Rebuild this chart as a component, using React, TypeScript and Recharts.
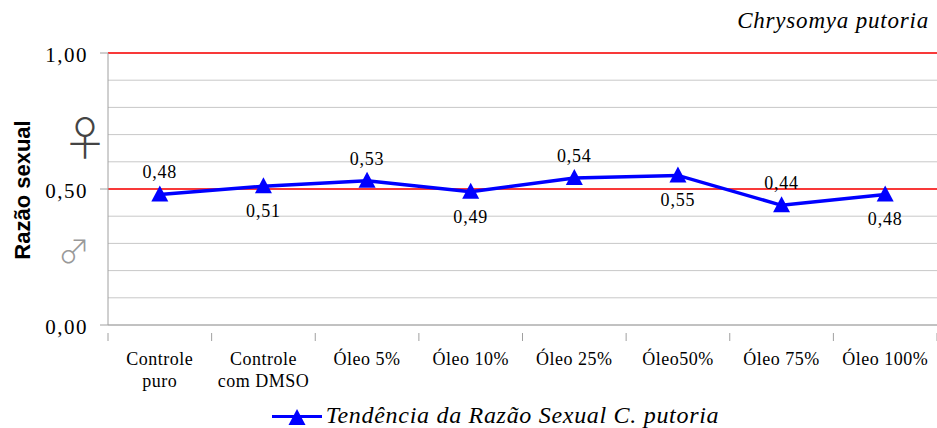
import React from 'react';
import { LineChart, Line, XAxis, YAxis, CartesianGrid, ReferenceLine, LabelList, Legend } from 'recharts';

const categories = ['Controle\npuro', 'Controle\ncom DMSO', 'Óleo 5%', 'Óleo 10%', 'Óleo 25%', 'Óleo50%', 'Óleo 75%', 'Óleo 100%'];
const ratios = [0.48, 0.51, 0.53, 0.49, 0.54, 0.55, 0.44, 0.48];
const labelSides = ['top', 'bottom', 'top', 'bottom', 'top', 'bottom', 'top', 'bottom'];
const yTicks = [0, 0.1, 0.2, 0.3, 0.4, 0.5, 0.6, 0.7, 0.8, 0.9, 1.0];
const yLabelTicks = [0, 0.5, 1.0];
const redLines = [0.5, 1.0];
const seriesName = 'Tendência da Razão Sexual C. putoria';
const chartTitle = 'Chrysomya putoria';
const yTitle = 'Razão sexual';
const femaleTick = 0.7;
const maleTick = 0.3;

const data = categories.map((c, i) => ({ x: i + 0.5, name: c, value: ratios[i] }));
const xTicks = categories.map((_, i) => i + 0.5);

const SERIF = 'Liberation Serif';
const SANS = 'Liberation Sans';
const SYM = 'Noto Sans CJK JP';

const fmt = (v: number) => v.toFixed(2).replace('.', ',');

const XTick = (props: any) => {
  const { x, y, payload, width } = props;
  const step = width / categories.length;
  const idx = Math.round(payload.value - 0.5);
  const lines = categories[idx].split('\n');
  return (
    <g>
      <line x1={x - step / 2} y1={y} x2={x - step / 2} y2={y + 8} stroke="#a0a0a0" />
      {idx === categories.length - 1 && (
        <line x1={x + step / 2} y1={y} x2={x + step / 2} y2={y + 8} stroke="#a0a0a0" />
      )}
      {lines.map((l, i) => (
        <text key={i} x={x} y={y + 32 + i * 21.5} textAnchor="middle" style={{ fontFamily: SERIF }} fontSize={18} letterSpacing={0.5} fill="#000">
          {l}
        </text>
      ))}
    </g>
  );
};

const YTick = (props: any) => {
  const { x, y, payload } = props;
  const v = payload.value;
  const isLabel = yLabelTicks.some((t) => Math.abs(t - v) < 1e-6);
  return (
    <g>
      {isLabel && (
        <>
          <line x1={x + 13} y1={y} x2={x + 21} y2={y} stroke="#a0a0a0" />
          <text x={x + 1} y={y + 8.5} textAnchor="end" style={{ fontFamily: SERIF }} fontSize={21} letterSpacing={1.5} fill="#000">
            {fmt(v)}
          </text>
        </>
      )}
      {Math.abs(v - femaleTick) < 1e-6 && (
        <text x={x - 2} y={y + 20} textAnchor="middle" style={{ fontFamily: SYM, fontWeight: 300 }} fontSize={46} fill="#444">
          ♀
        </text>
      )}
      {Math.abs(v - maleTick) < 1e-6 && (
        <text x={x - 13} y={y + 20} textAnchor="middle" style={{ fontFamily: SYM, fontWeight: 300 }} fontSize={32} fill="#999">
          ♂
        </text>
      )}
    </g>
  );
};

const Triangle = (props: any) => {
  const { cx, cy } = props;
  if (cx == null || cy == null) return null;
  return <polygon points={`${cx},${cy - 9} ${cx - 8.5},${cy + 7} ${cx + 8.5},${cy + 7}`} fill="#0000ff" />;
};

const DataLabel = (props: any) => {
  const { x, y, value, index } = props;
  const above = labelSides[index] === 'top';
  return (
    <text x={x} y={above ? y - 16 : y + 31} textAnchor="middle" style={{ fontFamily: SERIF }} fontSize={18} letterSpacing={0.8} fill="#000">
      {fmt(value)}
    </text>
  );
};

const LegendContent = () => (
  <div style={{ height: 34, position: 'relative' }}>
    <div style={{ position: 'absolute', left: 52, right: 0, top: 0, display: 'flex', justifyContent: 'center' }}>
      <svg width={56} height={34} style={{ display: 'block' }}>
        <line x1={2} y1={22.5} x2={52} y2={22.5} stroke="#0000ff" strokeWidth={3} />
        <polygon points="27,15 18.5,31 35.5,31" fill="#0000ff" />
      </svg>
      <span style={{ fontFamily: SERIF, fontStyle: 'italic', fontSize: 24, lineHeight: '30px', height: 34, color: '#000', letterSpacing: 0.7, paddingTop: 6 }}>
        {seriesName}
      </span>
    </div>
  </div>
);

export default function App() {
  return (
    <div style={{ position: 'absolute', left: 0, top: 0, width: 937, height: 428, background: '#fff', overflow: 'hidden' }}>
      <div style={{ position: 'absolute', right: 8, top: 8, fontFamily: SERIF, fontStyle: 'italic', fontSize: 23, lineHeight: '26px', letterSpacing: 0.8, color: '#000' }}>
        {chartTitle}
      </div>
      <div style={{ position: 'absolute', left: 23, top: 190, transform: 'translate(-50%, -50%) rotate(-90deg)', fontFamily: SANS, fontWeight: 'bold', fontSize: 22, whiteSpace: 'nowrap', color: '#000' }}>
        {yTitle}
      </div>
      <LineChart width={937} height={428} data={data} margin={{ top: 53, right: 0, left: 0, bottom: 0 }}>
        <CartesianGrid horizontal vertical={false} stroke="#c8c8c8" />
        <XAxis
          dataKey="x"
          type="number"
          domain={[0, categories.length]}
          ticks={xTicks}
          tick={<XTick />}
          tickLine={false}
          axisLine={{ stroke: '#a0a0a0' }}
          height={69}
          interval={0}
          allowDataOverflow
        />
        <YAxis
          type="number"
          domain={[0, 1]}
          ticks={yTicks}
          tick={<YTick />}
          tickLine={false}
          tickSize={8}
          tickMargin={13}
          axisLine={{ stroke: '#a0a0a0' }}
          width={108}
          interval={0}
        />
        {redLines.map((v) => (
          <ReferenceLine key={v} y={v} stroke="#ff0000" strokeWidth={1.4} />
        ))}
        <Legend verticalAlign="bottom" content={<LegendContent />} />
        <Line
          dataKey="value"
          name={seriesName}
          stroke="#0000ff"
          strokeWidth={3.5}
          dot={<Triangle />}
          activeDot={false}
          isAnimationActive={false}
        >
          <LabelList dataKey="value" content={<DataLabel />} />
        </Line>
      </LineChart>
    </div>
  );
}
